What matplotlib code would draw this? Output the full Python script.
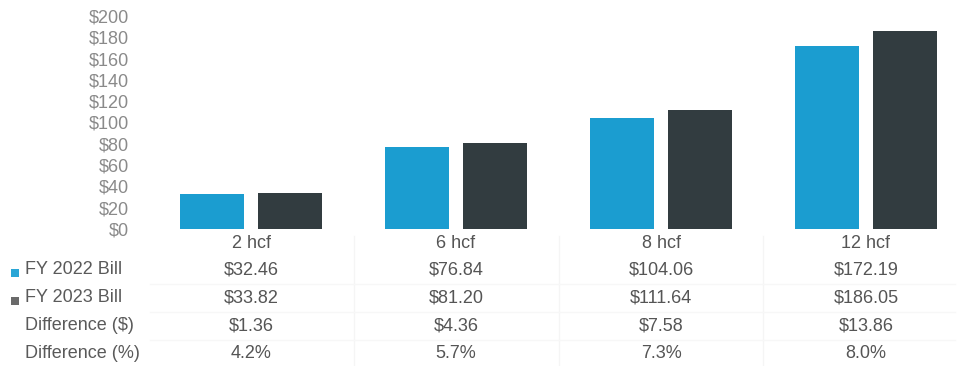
import matplotlib
matplotlib.use("Agg")
import matplotlib.pyplot as plt
from matplotlib.patches import Rectangle
from matplotlib.lines import Line2D
from matplotlib.transforms import blended_transform_factory
import numpy as np

categories = ["2 hcf", "6 hcf", "8 hcf", "12 hcf"]
fy2022 = [32.46, 76.84, 104.06, 172.19]
fy2023 = [33.82, 81.20, 111.64, 186.05]
diff_dollar = ["$1.36", "$4.36", "$7.58", "$13.86"]
diff_pct = ["4.2%", "5.7%", "7.3%", "8.0%"]
yticks = [0, 20, 40, 60, 80, 100, 120, 140, 160, 180, 200]
row_labels = ["FY 2022 Bill", "FY 2023 Bill", "Difference ($)", "Difference (%)"]

BLUE = "#1b9dd0"
DARK = "#323c40"
TICK_GREY = "#8a8a8a"
TEXT_GREY = "#555555"

plt.rcParams['font.family'] = ['Liberation Sans', 'DejaVu Sans']

W, H = 961, 366
fig = plt.figure(figsize=(W / 100, H / 100), dpi=100)

left_px, right_px = 148.5, 961
top_px, bot_px = 16, 229
ax = fig.add_axes([left_px / W, 1 - bot_px / H, (right_px - left_px) / W, (bot_px - top_px) / H])

x = np.arange(len(categories))
bw = 0.31
off = 0.19
ax.bar(x - off, fy2022, width=bw, color=BLUE)
ax.bar(x + off, fy2023, width=bw, color=DARK)

cat_w = 205.0
ax.set_xlim(-0.5, -0.5 + (right_px - left_px) / cat_w)
ax.set_ylim(0, 200)
ax.set_yticks(yticks)
ax.set_yticklabels([f"${v}" for v in yticks], color=TICK_GREY, fontsize=13)
ax.tick_params(axis='y', length=0, pad=14)
ax.set_xticks([])
for s in ax.spines.values():
    s.set_visible(False)

tr = blended_transform_factory(ax.transData, fig.transFigure)

def fy(px):
    return 1 - px / H

# faint table grid
for b in [0.5, 1.5, 2.5]:
    fig.add_artist(Line2D([b, b], [fy(236), fy(366)], transform=tr, color="#f5f5f5", lw=1))
for yy in [284, 312, 340]:
    fig.add_artist(Line2D([150 / W, 955 / W], [fy(yy), fy(yy)], transform=fig.transFigure, color="#f7f7f7", lw=1))

# header row
for i, c in enumerate(categories):
    fig.text(i, fy(243), c, transform=tr, ha="center", va="center", fontsize=13, color=TEXT_GREY)

rows_y = [270, 298, 326, 353]
rows_vals = [[f"${v:.2f}" for v in fy2022], [f"${v:.2f}" for v in fy2023], diff_dollar, diff_pct]
for ry, vals in zip(rows_y, rows_vals):
    for i, v in enumerate(vals):
        fig.text(i, fy(ry), v, transform=tr, ha="center", va="center", fontsize=13, color=TEXT_GREY)

for ry, lab in zip(rows_y, row_labels):
    fig.text(25 / W, fy(ry), lab, ha="left", va="center", fontsize=13, color="#5a5a5a")

# legend keys
fig.add_artist(Rectangle((11 / W, fy(277)), 8 / W, 8 / H, transform=fig.transFigure, color="#2aa6d6", lw=0))
fig.add_artist(Rectangle((11 / W, fy(305)), 8 / W, 8 / H, transform=fig.transFigure, color="#6a6a6a", lw=0))

fig.savefig("out.png", dpi=100)
